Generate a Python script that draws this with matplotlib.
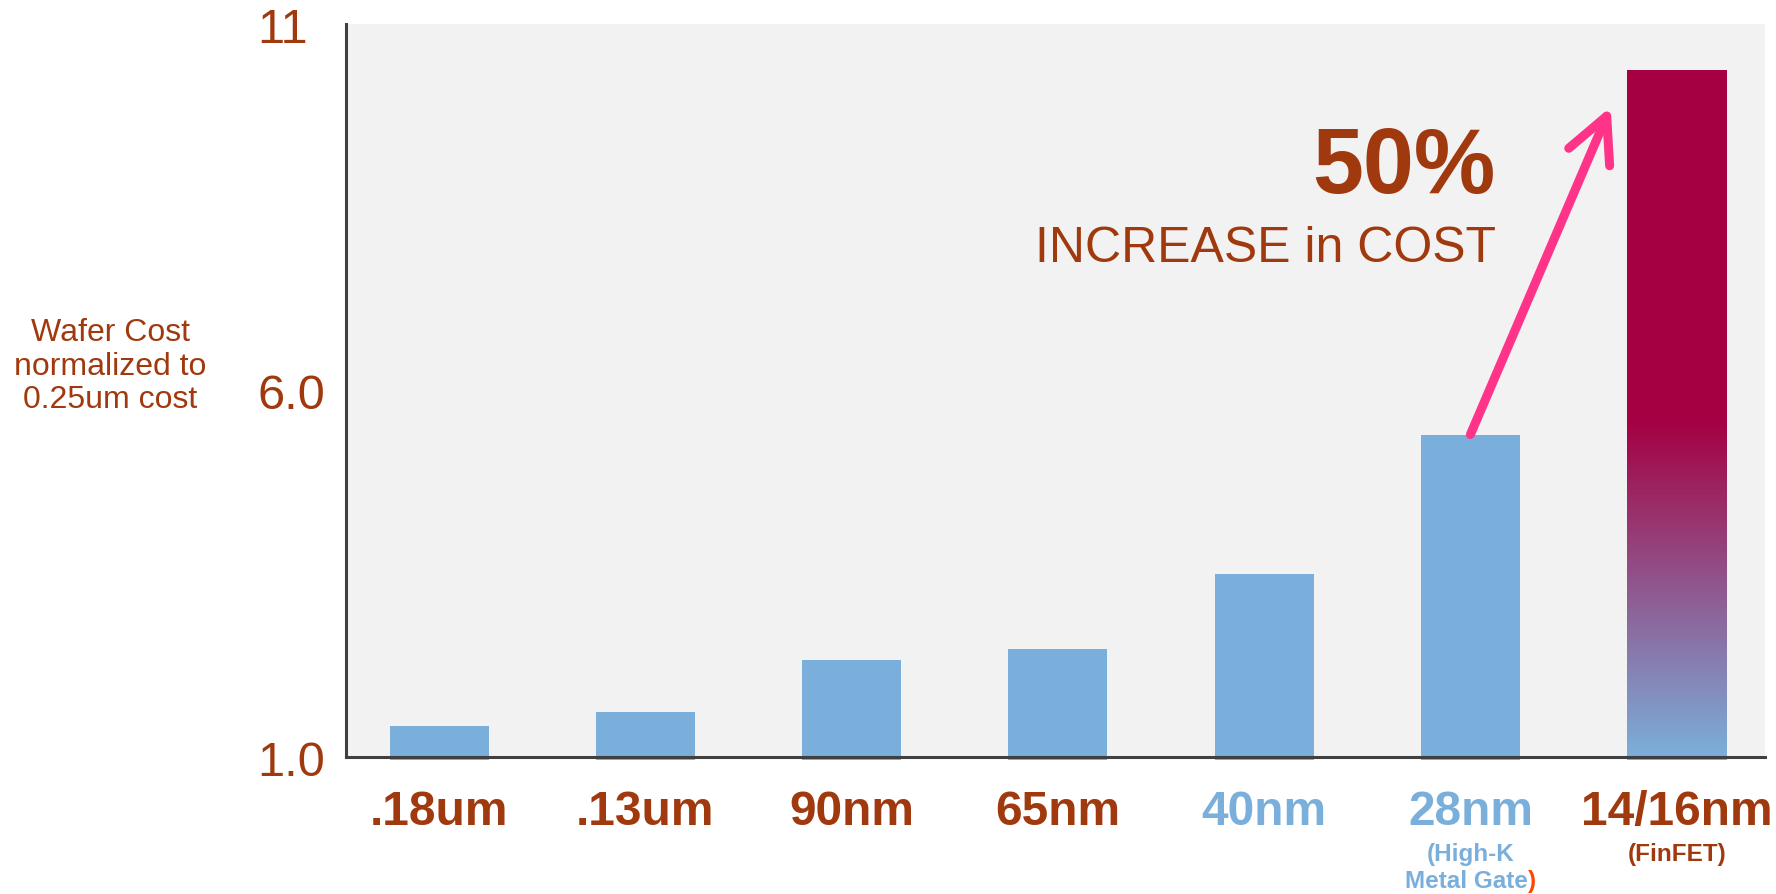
import matplotlib
matplotlib.use("Agg")
import matplotlib.pyplot as plt
import matplotlib.transforms as mtransforms
from matplotlib.colors import LinearSegmentedColormap
import numpy as np

plt.rcParams["font.family"] = ["Liberation Sans", "DejaVu Sans"]

nodes = [".18um", ".13um", "90nm", "65nm", "40nm", "28nm", "14/16nm"]
cost = [1.43, 1.62, 2.33, 2.48, 3.50, 5.40, 10.38]
yticks = [1.0, 6.0, 11.0]
ytick_labels = ["1.0", "6.0", "11"]

RUST = "#A0390E"
BLUE = "#7BAFDB"
CRIMSON = "#A50042"
PINK = "#FF3388"
label_colors = [RUST, RUST, RUST, RUST, BLUE, BLUE, RUST]

fig = plt.figure(figsize=(17.76, 8.95), dpi=100)
ax = fig.add_axes([0.195, 0.153, 0.799, 0.819])
ax.set_facecolor("#F2F2F2")

x = np.arange(len(nodes))
base = 0.96
bars = ax.bar(x, [c - base for c in cost], bottom=base, width=0.48,
              color=BLUE, clip_on=False, zorder=2)
# last bar: crimson fading to blue near the bottom
last = bars[-1]
last.set_facecolor(CRIMSON)
cmap = LinearSegmentedColormap.from_list("fade", [BLUE, CRIMSON])
v = np.linspace(cost[-1], base, 400)[:, None]
grad = np.clip((v - 1.0) / 4.6, 0, 1)
x0 = x[-1] - 0.24
im = ax.imshow(grad, cmap=cmap, vmin=0, vmax=1, aspect="auto",
               extent=[x0, x0 + 0.48, base, cost[-1]], zorder=3)
im.set_clip_path(last)

ax.set_xlim(-0.45, 6.43)
ax.set_ylim(1, 11)

for s in ["top", "right"]:
    ax.spines[s].set_visible(False)
for s in ["left", "bottom"]:
    ax.spines[s].set_color("#404040")
    ax.spines[s].set_linewidth(2.2)
    ax.spines[s].set_zorder(4)

ax.set_yticks(yticks, ytick_labels)
ax.tick_params(axis="y", length=0, pad=64, labelsize=35, labelcolor=RUST)
for lab in ax.get_yticklabels():
    lab.set_ha("left")

ax.set_xticks(x, nodes)
ax.tick_params(axis="x", length=0, pad=23, labelsize=34.5)
for lab, col in zip(ax.get_xticklabels(), label_colors):
    lab.set_color(col)
    lab.set_fontweight("bold")

trans = mtransforms.blended_transform_factory(ax.transData, ax.transAxes)
sub = dict(fontsize=17.5, fontweight="bold")
ax.text(x[5], -0.131, "(High-K", transform=trans, ha="center", va="center",
        color=BLUE, **sub)
mg = ax.annotate("Metal Gate", xy=(x[5], -0.168), xycoords=trans,
                 xytext=(-3, 0), textcoords="offset points",
                 ha="center", va="center", color=BLUE, **sub)
ax.annotate(")", xy=(1, 0), xycoords=mg, ha="left", va="bottom",
            color="#FF4500", **sub)
ax.text(x[6], -0.131, "(FinFET)", transform=trans, ha="center", va="center",
        color=RUST, **sub)

ax.text(0.81, 0.803, "50%", transform=ax.transAxes, ha="right", va="center",
        fontsize=66, fontweight="bold", color=RUST)
ax.text(0.81, 0.694, "INCREASE in COST", transform=ax.transAxes, ha="right",
        va="center", fontsize=36, color=RUST)

ax.annotate("", xy=(5.68, 9.87), xytext=(x[5], cost[5]),
            arrowprops=dict(arrowstyle="->,head_length=1.6,head_width=0.8",
                            mutation_scale=20, lw=6.5, color=PINK,
                            capstyle="round", joinstyle="round",
                            shrinkA=0, shrinkB=0), zorder=5)

fig.text(0.062, 0.59, "Wafer Cost\nnormalized to\n0.25um cost", ha="center",
         va="center", fontsize=23, color=RUST, linespacing=1.15)

fig.savefig("out.png", dpi=100)
